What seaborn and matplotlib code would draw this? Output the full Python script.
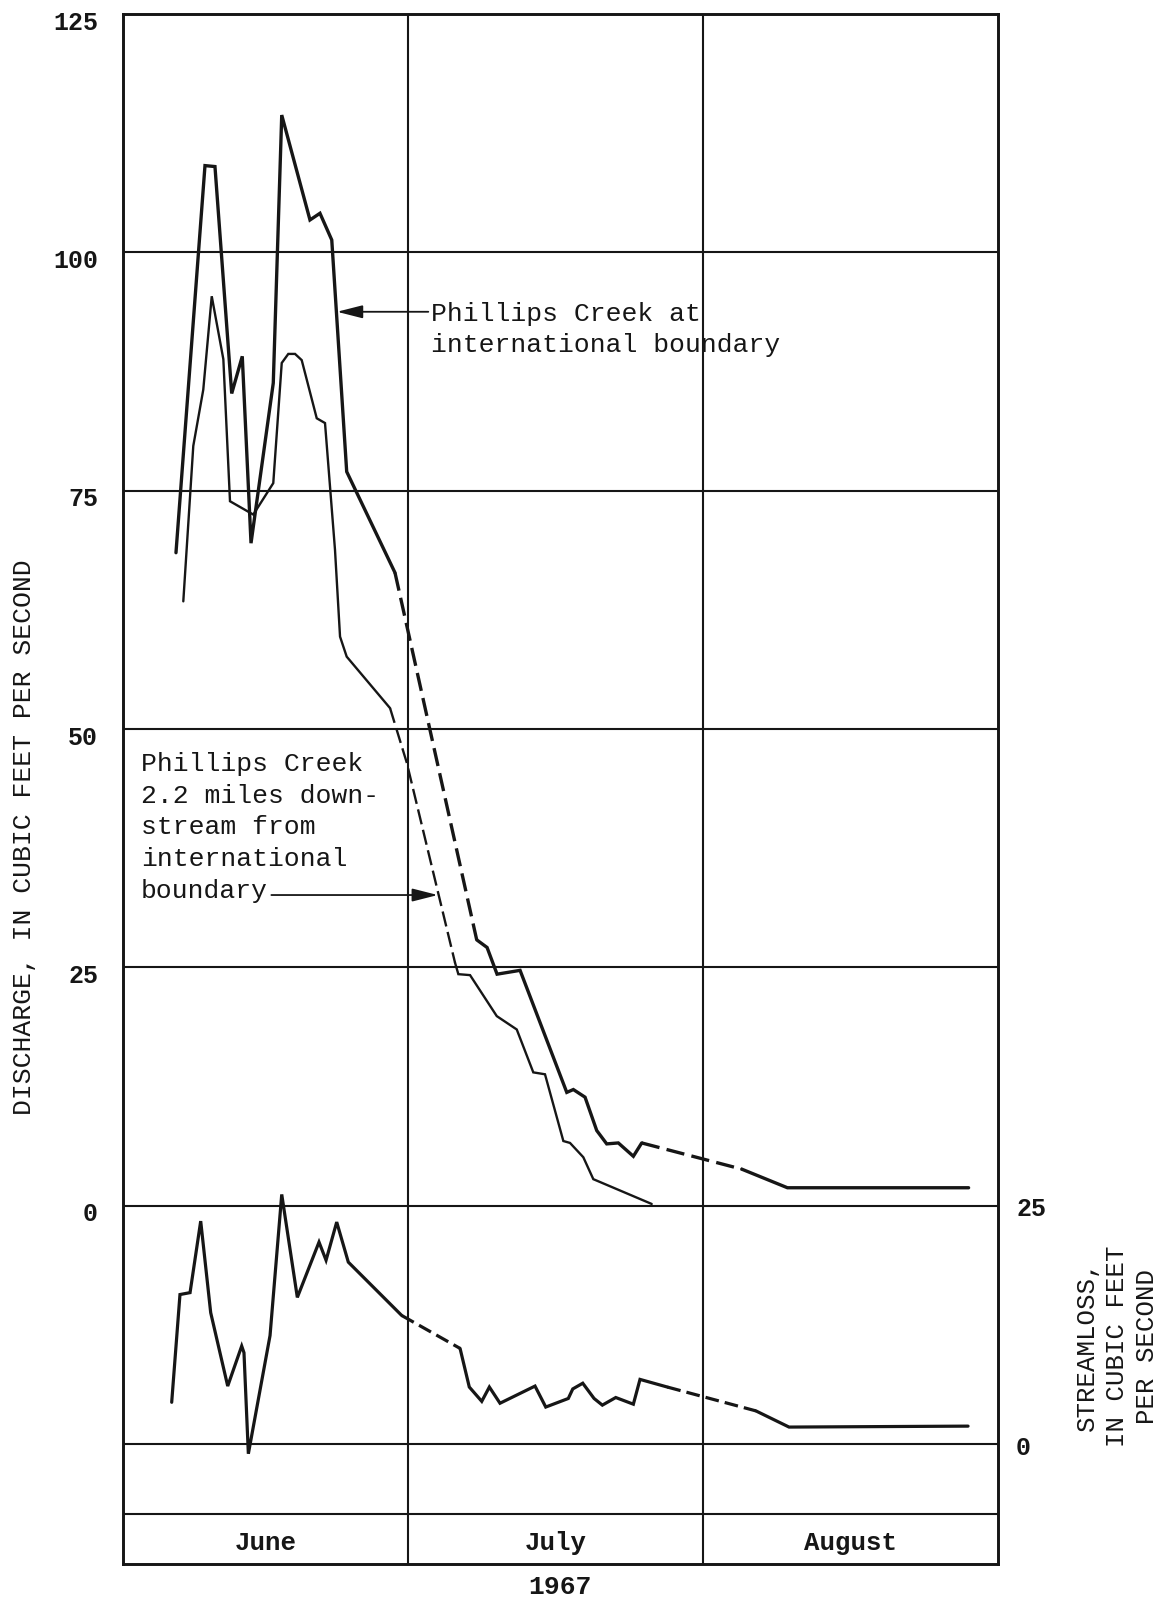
import matplotlib
matplotlib.use("Agg")
import matplotlib.pyplot as plt
import matplotlib.transforms as mtransforms
import pandas as pd
import seaborn as sns

# ---------------- data (days counted from 1 June 1967; discharge in ft3/s) -------------
boundary_day = [5.57, 8.62, 9.67, 11.43, 12.54, 13.46, 15.80, 16.69, 19.66, 20.71,
                21.95, 23.52, 28.60, 37.19, 38.28, 39.33, 41.75, 46.66, 47.35, 48.58,
                49.81, 50.86, 52.08, 53.66, 54.54, 65.06, 69.86, 88.91]
boundary_cfs = [68.5, 109.1, 109.0, 85.2, 89.1, 69.5, 86.3, 114.4, 103.4, 104.1,
                101.3, 77.0, 66.4, 27.9, 27.1, 24.3, 24.7, 11.9, 12.2, 11.4,
                7.9, 6.5, 6.6, 5.2, 6.6, 3.85, 1.9, 1.9]
# o = observed segment to next point, e = estimated (dashed) segment
boundary_seg = "oooooooooooo" + "e" + "ooooooooooo" + "e" + "oo"

downstream_day = [6.34, 7.39, 8.44, 9.33, 10.55, 11.25, 13.70, 15.80, 16.69, 17.38,
                  18.09, 18.79, 20.37, 21.24, 22.29, 22.82, 23.52, 28.08, 29.83, 34.91,
                  35.26, 36.49, 39.30, 41.40, 43.14, 44.37, 46.30, 47.00, 48.40, 49.45,
                  55.59]
downstream_cfs = [63.4, 79.7, 85.6, 95.4, 88.8, 73.9, 72.5, 75.8, 88.4, 89.35,
                  89.35, 88.7, 82.6, 82.1, 68.8, 59.7, 57.6, 52.2, 46.5, 25.5,
                  24.3, 24.2, 19.9, 18.5, 14.0, 13.8, 6.8, 6.6, 5.1, 2.8,
                  0.2]
downstream_seg = "ooooooooooooooooo" + "ee" + "ooooooooooo"

streamloss_day = [5.12, 5.99, 7.05, 8.17, 9.22, 11.01, 12.48, 12.72, 13.18, 15.46,
                  16.69, 18.33, 20.61, 21.35, 22.47, 23.69, 29.31, 35.44, 36.41, 37.72,
                  38.52, 39.64, 43.32, 44.45, 46.82, 47.29, 48.34, 49.53, 50.40, 51.81,
                  53.66, 54.36, 57.23, 66.54, 70.03, 88.85]
streamloss_cfs = [4.4, 15.7, 15.9, 23.4, 13.8, 6.1, 10.3, 9.6, -1.0, 11.4,
                  26.2, 15.4, 21.2, 19.3, 23.3, 19.1, 13.5, 10.05, 6.0, 4.5,
                  6.0, 4.3, 6.1, 3.9, 4.8, 5.8, 6.4, 4.8, 4.1, 4.9,
                  4.2, 6.8, 6.0, 3.5, 1.8, 1.9]
streamloss_seg = "oooooooooooooooo" + "e" + "ooooooooooooooo" + "e" + "oo"

month_names = ["June", "July", "August"]
month_bounds = [0, 30, 61, 92]
discharge_ticks = [0, 25, 50, 75, 100, 125]
streamloss_ticks = [0, 25]
year_label = "1967"

label_boundary = "Phillips Creek at\ninternational boundary"
label_downstream = ("Phillips Creek\n2.2 miles down-\nstream from\n"
                    "international\nboundary")
ylabel_left = "DISCHARGE, IN CUBIC FEET PER SECOND"
ylabel_right = "STREAMLOSS,\nIN CUBIC FEET\nPER SECOND"

# ---------------- style -------------
sns.set_theme(style="white")
plt.rcParams["font.family"] = ["Liberation Mono", "DejaVu Sans Mono"]
INK = "#161616"

fig = plt.figure(figsize=(11.65, 16.06), dpi=100)
fig.patch.set_facecolor("white")
ax = fig.add_axes([0.10558, 0.02553, 0.75107, 0.96513])
ylim_main = (-37.56, 125.0)
offset = 25.0  # streamloss 0 sits at discharge -25
ax.set_xlim(month_bounds[0], month_bounds[-1])
ax.set_ylim(*ylim_main)
ax.set_facecolor("white")

ax2 = ax.twinx()
ax2.set_ylim(ylim_main[0] + offset, ylim_main[1] + offset)

# grid
for lev in discharge_ticks[:-1]:
    ax.axhline(lev, color=INK, lw=1.5, zorder=1)
ax2.axhline(0, color=INK, lw=1.5, zorder=1)
band_top = -32.3
ax.axhline(band_top, color=INK, lw=1.5, zorder=1)
for b in month_bounds[1:-1]:
    ax.axvline(b, color=INK, lw=1.5, zorder=1)
for a in (ax, ax2):
    for s in a.spines.values():
        s.set_color(INK)
        s.set_linewidth(1.9)


def draw_series(axis, days, vals, seg, lw, dash):
    df = pd.DataFrame({"day": days, "cfs": vals})
    start = 0
    for i in range(1, len(seg) + 1):
        if i == len(seg) or seg[i] != seg[start]:
            part = df.iloc[start:i + 1]
            ls = "-" if seg[start] == "o" else (0, dash)
            sns.lineplot(data=part, x="day", y="cfs", ax=axis, color=INK, lw=lw,
                         linestyle=ls, sort=False, estimator=None, zorder=3,
                         solid_joinstyle="miter", dash_capstyle="butt")
            start = i


draw_series(ax, boundary_day, boundary_cfs, boundary_seg, 2.4, (5.5, 2.2))
draw_series(ax, downstream_day, downstream_cfs, downstream_seg, 1.7, (6.5, 2.4))
draw_series(ax2, streamloss_day, streamloss_cfs, streamloss_seg, 2.3, (4.3, 1.9))

# axes labels / ticks
ax.set_xticks([])
ax.set_xlabel(year_label, fontsize=19, fontweight="bold", color=INK, labelpad=7)
ax.set_ylabel("")
ax2.set_ylabel("")
ax.set_yticks(discharge_ticks)
ax.set_yticklabels([str(t) for t in discharge_ticks])
ax.tick_params(axis="y", left=False, right=False, pad=12, labelsize=18,
               labelcolor=INK)
down = mtransforms.ScaledTranslation(0, -5 / 100, fig.dpi_scale_trans)
for lab in ax.get_yticklabels():
    lab.set_fontweight("bold")
    lab.set_transform(lab.get_transform() + down)
ax2.set_yticks(streamloss_ticks)
ax2.set_yticklabels([str(t) for t in streamloss_ticks])
ax2.tick_params(axis="y", right=False, left=False, pad=7, labelsize=18,
                labelcolor=INK)
for lab in ax2.get_yticklabels():
    lab.set_fontweight("bold")

# month names in the bottom band
for name, a, b in zip(month_names, month_bounds[:-1], month_bounds[1:]):
    ax.text((a + b) / 2, (band_top + ylim_main[0]) / 2 - 0.3, name, ha="center",
            va="center", fontsize=18.5, fontweight="bold", color=INK)

# axis titles
tl = mtransforms.blended_transform_factory(ax.transAxes, ax.transData)
ax.text(-0.113, 38.8, ylabel_left, transform=tl, rotation=90, ha="center",
        va="center", fontsize=19, color=INK)
ax.text(1.136, -14.6, ylabel_right, transform=tl, rotation=90, ha="center",
        va="center", fontsize=18.5, color=INK, multialignment="center",
        linespacing=1.3)

# annotations
arrow_kw = dict(arrowstyle="-|>,head_length=1.3,head_width=0.33", color=INK,
                lw=1.3, shrinkA=0, shrinkB=0)
ax.text(32.4, 92.0, label_boundary, ha="left", va="center", fontsize=19,
        color=INK, linespacing=1.4)
ax.annotate("", xy=(22.5, 93.77), xytext=(32.1, 93.77), arrowprops=arrow_kw)
ax.text(1.9, 39.8, label_downstream, ha="left", va="center", fontsize=19,
        color=INK, linespacing=1.4)
ax.annotate("", xy=(33.1, 32.6), xytext=(15.6, 32.6), arrowprops=arrow_kw)

fig.savefig("out.png", dpi=100, facecolor="white")
